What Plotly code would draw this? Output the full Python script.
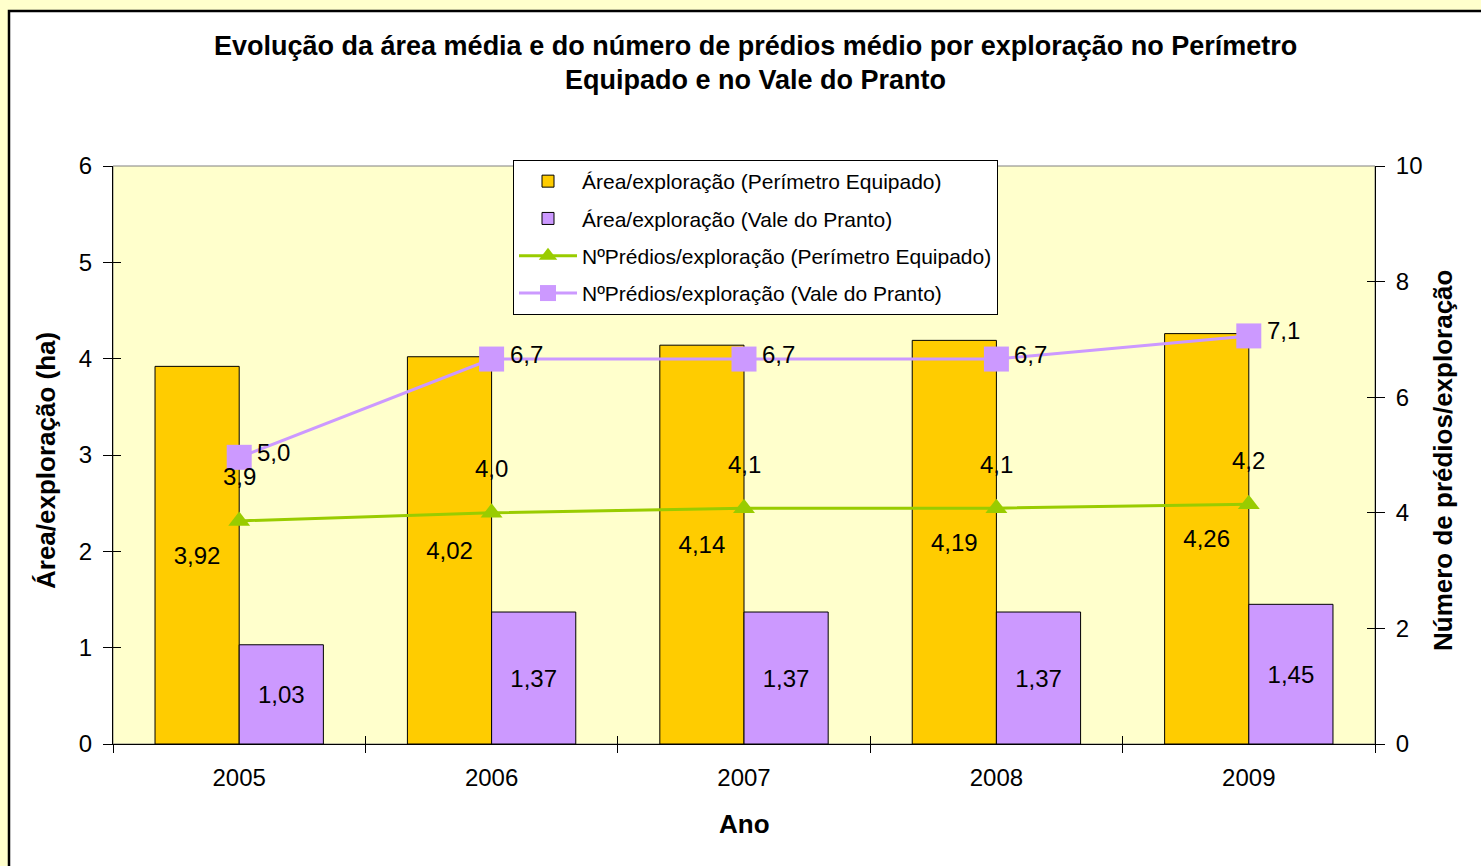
import plotly.graph_objects as go

# ---- data ----
years = ["2005", "2006", "2007", "2008", "2009"]
area_pe = [3.92, 4.02, 4.14, 4.19, 4.26]      # Área/exploração (Perímetro Equipado)
area_vp = [1.03, 1.37, 1.37, 1.37, 1.45]      # Área/exploração (Vale do Pranto)
pred_pe = [3.86, 4.00, 4.08, 4.08, 4.15]      # NºPrédios/exploração (Perímetro Equipado)
pred_vp = [4.96, 6.66, 6.66, 6.66, 7.06]      # NºPrédios/exploração (Vale do Pranto)
left_ticks = [0, 1, 2, 3, 4, 5, 6]
right_ticks = [0, 2, 4, 6, 8, 10]

FONT = "Liberation Sans, Arial, sans-serif"
YELLOW = "#FFCC00"
PURPLE = "#CC99FF"
GREEN = "#99CC00"
BG = "#FFFFCC"


def fmt(v, d):
    return f"{v:.{d}f}".replace(".", ",")


label_font = dict(family=FONT, size=24, color="black")

fig = go.Figure()
fig.add_trace(go.Bar(
    x=years, y=area_pe, name="Área/exploração (Perímetro Equipado)",
    marker=dict(color=YELLOW, line=dict(color="black", width=1)),
    text=[fmt(v, 2) for v in area_pe], textposition="inside",
    insidetextanchor="middle", textangle=0, constraintext="none",
    textfont=label_font, legendgroup="a", hoverinfo="skip"))
fig.add_trace(go.Bar(
    x=years, y=area_vp, name="Área/exploração (Vale do Pranto)",
    marker=dict(color=PURPLE, line=dict(color="black", width=1)),
    text=[fmt(v, 2) for v in area_vp], textposition="inside",
    insidetextanchor="middle", textangle=0, constraintext="none",
    textfont=label_font, legendgroup="b", hoverinfo="skip"))
fig.add_trace(go.Scatter(
    x=years, y=pred_pe, yaxis="y2", mode="lines+markers",
    name="NºPrédios/exploração (Perímetro Equipado)",
    line=dict(color=GREEN, width=3),
    marker=dict(symbol="triangle-up", size=19, color=GREEN),
    legendgroup="c", hoverinfo="skip"))
fig.add_trace(go.Scatter(
    x=years, y=pred_vp, yaxis="y2", mode="lines+markers",
    name="NºPrédios/exploração (Vale do Pranto)",
    line=dict(color=PURPLE, width=3),
    marker=dict(symbol="square", size=25, color=PURPLE),
    legendgroup="d", hoverinfo="skip"))

annotations = []
for i, v in enumerate(pred_pe):
    annotations.append(dict(x=i, y=v, xref="x", yref="y2", text=fmt(v, 1),
                            showarrow=False, yshift=44, font=label_font))
for i, v in enumerate(pred_vp):
    annotations.append(dict(x=i, y=v, xref="x", yref="y2", text=fmt(v, 1),
                            showarrow=False, xanchor="left", xshift=16, yshift=5,
                            font=label_font))

# plot area = 113..1375 x 166..744 px
L, R, T, B = 113, 106, 166, 122
PW, PH = 1481 - L - R, 866 - T - B


def px(xp):
    return (xp - L) / PW


def py(yp):
    return (T + PH - yp) / PH


title_font = dict(family=FONT, size=27, color="black")
axis_title_font = dict(family=FONT, size=26, color="black")
annotations += [
    dict(text="<b>Evolução da área média e do número de prédios médio por exploração no Perímetro</b>",
         x=px(756), y=py(46), xref="paper", yref="paper", showarrow=False,
         xanchor="center", yanchor="middle", font=title_font),
    dict(text="<b>Equipado e no Vale do Pranto</b>",
         x=px(756), y=py(80), xref="paper", yref="paper", showarrow=False,
         xanchor="center", yanchor="middle", font=title_font),
    dict(text="<b>Área/exploração (ha)</b>", textangle=-90,
         x=px(46), y=py(461), xref="paper", yref="paper", showarrow=False,
         xanchor="center", yanchor="middle", font=axis_title_font),
    dict(text="<b>Número de prédios/exploração</b>", textangle=-90,
         x=px(1443), y=py(461), xref="paper", yref="paper", showarrow=False,
         xanchor="center", yanchor="middle", font=axis_title_font),
    dict(text="<b>Ano</b>",
         x=px(744), y=py(824), xref="paper", yref="paper", showarrow=False,
         xanchor="center", yanchor="middle", font=axis_title_font),
]

shapes = [
    dict(type="rect", xref="paper", yref="paper", layer="below",
         x0=px(9), x1=px(1495), y0=py(11), y1=py(880),
         fillcolor="white", line=dict(color="black", width=2.5)),
    dict(type="rect", xref="paper", yref="paper", layer="below",
         x0=0, x1=1, y0=0, y1=1, fillcolor=BG, line=dict(color="#808080", width=1)),
]

tickfont = dict(family=FONT, size=24, color="black")
# empty helper traces so the overlay (inner tick) axes are drawn
fig.add_trace(go.Scatter(x=[], y=[], xaxis="x2", yaxis="y3", showlegend=False, hoverinfo="skip"))
fig.add_trace(go.Scatter(x=[], y=[], xaxis="x2", yaxis="y4", showlegend=False, hoverinfo="skip"))

fig.update_layout(
    width=1481, height=866,
    margin=dict(l=L, r=R, t=T, b=B),
    paper_bgcolor=BG, plot_bgcolor="rgba(0,0,0,0)",
    font=dict(family=FONT, size=21, color="black"),
    barmode="group", bargap=0.333, bargroupgap=0,
    showlegend=True,
    legend=dict(x=px(513), y=py(160), xanchor="left", yanchor="top",
                bgcolor="white", bordercolor="black", borderwidth=1,
                font=dict(family=FONT, size=21, color="black"),
                tracegroupgap=7, itemwidth=58, traceorder="grouped"),
    xaxis=dict(type="category", range=[-0.5, 4.5], tickson="boundaries",
               ticks="outside", ticklen=8, tickcolor="black", tickwidth=1,
               showline=True, linecolor="black", linewidth=1, showgrid=False,
               tickfont=tickfont, ticklabelstandoff=12, zeroline=False,
               automargin=False, tickangle=0),
    xaxis2=dict(overlaying="x", range=[-0.5, 4.5], tickvals=[-0.5, 0.5, 1.5, 2.5, 3.5, 4.5],
                ticks="inside", ticklen=8, tickcolor="black", showticklabels=False,
                showline=False, showgrid=False, zeroline=False, side="bottom",
                anchor="y", automargin=False),
    yaxis=dict(range=[0, 6], tickvals=left_ticks, ticks="outside", ticklen=9,
               tickcolor="black", showline=True, linecolor="black", linewidth=1,
               showgrid=False, zeroline=False, tickfont=tickfont,
               ticklabelstandoff=6, automargin=False),
    yaxis2=dict(range=[0, 10], tickvals=right_ticks, overlaying="y", side="right",
                ticks="outside", ticklen=9, tickcolor="black", showline=True,
                linecolor="black", linewidth=1, showgrid=False, zeroline=False,
                tickfont=tickfont, ticklabelstandoff=6, automargin=False),
    yaxis3=dict(range=[0, 6], tickvals=left_ticks, overlaying="y", side="left",
                ticks="inside", ticklen=8, tickcolor="black", showticklabels=False,
                showline=False, showgrid=False, zeroline=False, anchor="x2",
                automargin=False),
    yaxis4=dict(range=[0, 10], tickvals=right_ticks, overlaying="y", side="right",
                ticks="inside", ticklen=8, tickcolor="black", showticklabels=False,
                showline=False, showgrid=False, zeroline=False, anchor="x2",
                automargin=False),
    annotations=annotations,
    shapes=shapes,
)

fig.write_html(
    "out.html",
    config={"displayModeBar": False},
    post_script="document.body.style.margin='0';document.body.style.background='#FFFFCC';",
)
